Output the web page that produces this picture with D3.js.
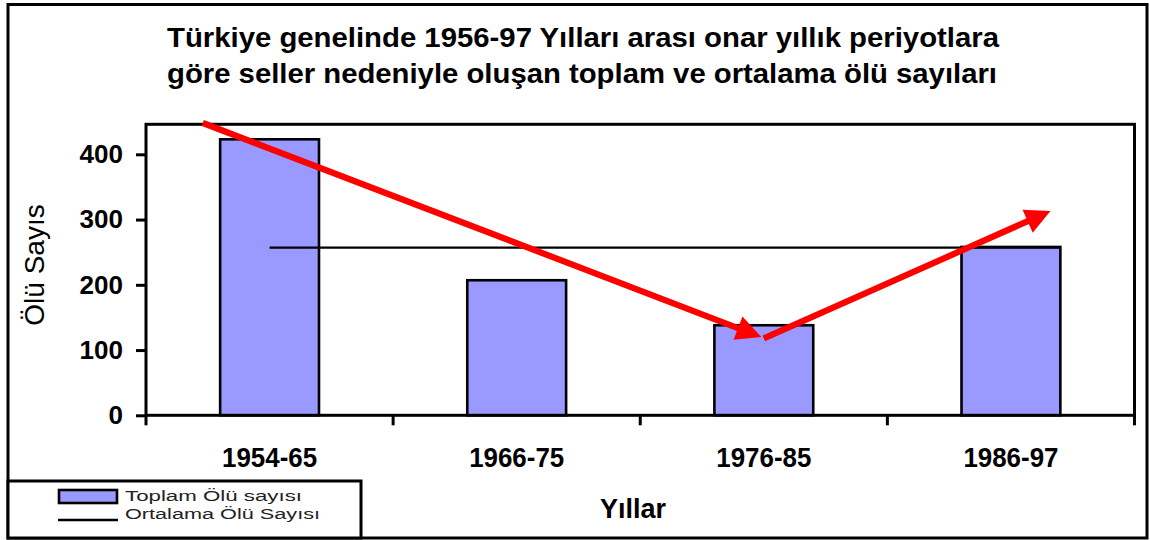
<!DOCTYPE html>
<html>
<head>
<meta charset="utf-8">
<script src="https://cdn.jsdelivr.net/npm/d3@7"></script>
<style>
  html, body { margin: 0; padding: 0; background: #fff; }
  svg { display: block; }
  text { font-family: "Liberation Sans", Arial, sans-serif; }
</style>
</head>
<body>
<svg id="chart" width="1150" height="540"></svg>
<script>
// ---- data ----
const categories = ["1954-65", "1966-75", "1976-85", "1986-97"];
const totals = [423, 207, 138, 258];          // Toplam Ölü sayısı
const averageValue = 257;                      // Ortalama Ölü Sayısı
const yTicks = [0, 100, 200, 300, 400];
const titleLines = [
  "Türkiye genelinde 1956-97 Yılları arası onar yıllık periyotlara",
  "göre seller nedeniyle oluşan toplam ve ortalama ölü sayıları"
];
const legendLabels = ["Toplam Ölü sayısı", "Ortalama Ölü Sayısı"];
const xTitle = "Yıllar";
const yTitle = "Ölü Sayıs";
// trend arrows: [category position index, value] start -> tip
const arrowStarts = [[-0.27, 448], [2.0, 118]];
const arrowTips = [[1.99, 120], [3.16, 313]];

// ---- layout ----
const svg = d3.select("#chart");
const plot = { left: 146, right: 1134.5, top: 124.3, bottom: 415.3 };
const barFill = "#9999FF";

const x = d3.scaleBand().domain(categories)
  .range([plot.left, plot.right]).paddingInner(0.6).paddingOuter(0.3);
const y = d3.scaleLinear().domain([0, 446]).range([plot.bottom, plot.top]);
const bw = x.bandwidth();
const pos = d3.scaleLinear().domain([0, categories.length - 1])
  .range([x(categories[0]) + bw / 2, x(categories[categories.length - 1]) + bw / 2]);

// outer border
svg.append("rect").attr("x", 8).attr("y", 4.5).attr("width", 1139).attr("height", 533.5)
  .attr("fill", "none").attr("stroke", "#000").attr("stroke-width", 3);

// title
svg.append("g").selectAll("text").data(titleLines).join("text")
  .attr("x", 167).attr("y", (d, i) => 47 + i * 36)
  .attr("font-size", 27).attr("font-weight", "bold").attr("fill", "#000")
  .attr("textLength", (d, i) => i === 0 ? 832 : 830)
  .attr("lengthAdjust", "spacingAndGlyphs")
  .text(d => d);

// bars
svg.append("g").selectAll("rect").data(totals).join("rect")
  .attr("x", (d, i) => x(categories[i]))
  .attr("y", d => y(d))
  .attr("width", bw)
  .attr("height", d => y(0) - y(d))
  .attr("fill", barFill).attr("stroke", "#000").attr("stroke-width", 2.6);

// plot frame
svg.append("rect").attr("x", plot.left).attr("y", plot.top)
  .attr("width", plot.right - plot.left).attr("height", plot.bottom - plot.top)
  .attr("fill", "none").attr("stroke", "#000").attr("stroke-width", 3);

// average line
svg.append("line")
  .attr("x1", x(categories[0]) + bw / 2)
  .attr("x2", x(categories[categories.length - 1]) + bw)
  .attr("y1", y(averageValue)).attr("y2", y(averageValue))
  .attr("stroke", "#000").attr("stroke-width", 2.4);

// y axis
const yAxis = svg.append("g").attr("transform", `translate(${plot.left},0)`)
  .call(d3.axisLeft(y).tickValues(yTicks).tickSize(10).tickPadding(13));
yAxis.select(".domain").remove();
yAxis.selectAll(".tick line").attr("stroke", "#000").attr("stroke-width", 3);
yAxis.selectAll(".tick text").attr("font-size", 26).attr("font-weight", "bold")
  .attr("fill", "#000").attr("font-family", "Liberation Sans, Arial, sans-serif");

// x axis
const xAxis = svg.append("g").attr("transform", `translate(0,${plot.bottom})`)
  .call(d3.axisBottom(x).tickSize(0));
xAxis.select(".domain").remove();
xAxis.selectAll(".tick text").attr("y", 52).attr("dy", 0)
  .attr("font-size", 27).attr("font-weight", "bold").attr("fill", "#000")
  .attr("font-family", "Liberation Sans, Arial, sans-serif")
  .attr("textLength", 95).attr("lengthAdjust", "spacingAndGlyphs");
// category boundary ticks
const bounds = d3.range(categories.length + 1).map(i => plot.left + i * x.step());
svg.append("g").selectAll("line").data(bounds).join("line")
  .attr("x1", d => d).attr("x2", d => d)
  .attr("y1", plot.bottom).attr("y2", plot.bottom + 10)
  .attr("stroke", "#000").attr("stroke-width", 3);

// axis titles
svg.append("text").attr("x", 633).attr("y", 518).attr("text-anchor", "middle")
  .attr("font-size", 27).attr("font-weight", "bold").attr("fill", "#000").text(xTitle);
svg.append("text").attr("transform", "translate(44,265) rotate(-90)")
  .attr("text-anchor", "middle").attr("font-size", 28).attr("fill", "#000").text(yTitle);

// trend arrows
const arrows = svg.append("g");
arrowStarts.forEach((s, i) => {
  const t = arrowTips[i];
  const x1 = pos(s[0]), y1 = y(s[1]), x2 = pos(t[0]), y2 = y(t[1]);
  const len = Math.hypot(x2 - x1, y2 - y1);
  const ux = (x2 - x1) / len, uy = (y2 - y1) / len;
  const hl = 25, hw = 12.5;
  const bx = x2 - ux * hl, by = y2 - uy * hl;
  arrows.append("line")
    .attr("x1", x1).attr("y1", y1).attr("x2", bx + ux * 2).attr("y2", by + uy * 2)
    .attr("stroke", "#FF0000").attr("stroke-width", 6.2);
  arrows.append("path")
    .attr("d", `M${x2},${y2}L${bx - uy * hw},${by + ux * hw}L${bx + uy * hw},${by - ux * hw}Z`)
    .attr("fill", "#FF0000");
});

// legend
const lg = svg.append("g");
lg.append("rect").attr("x", 8).attr("y", 481).attr("width", 353).attr("height", 57)
  .attr("fill", "#fff").attr("stroke", "#000").attr("stroke-width", 3);
lg.append("rect").attr("x", 59).attr("y", 490).attr("width", 58).attr("height", 13)
  .attr("fill", barFill).attr("stroke", "#000").attr("stroke-width", 2.6);
lg.append("line").attr("x1", 58).attr("x2", 118).attr("y1", 520).attr("y2", 520)
  .attr("stroke", "#000").attr("stroke-width", 2.6);
lg.selectAll("text.lbl").data(legendLabels).join("text").attr("class", "lbl")
  .attr("x", 125).attr("y", (d, i) => 501 + i * 18)
  .attr("font-size", 15.5).attr("fill", "#222")
  .attr("textLength", (d, i) => i === 0 ? 177 : 195)
  .attr("lengthAdjust", "spacingAndGlyphs")
  .text(d => d);
</script>
</body>
</html>
